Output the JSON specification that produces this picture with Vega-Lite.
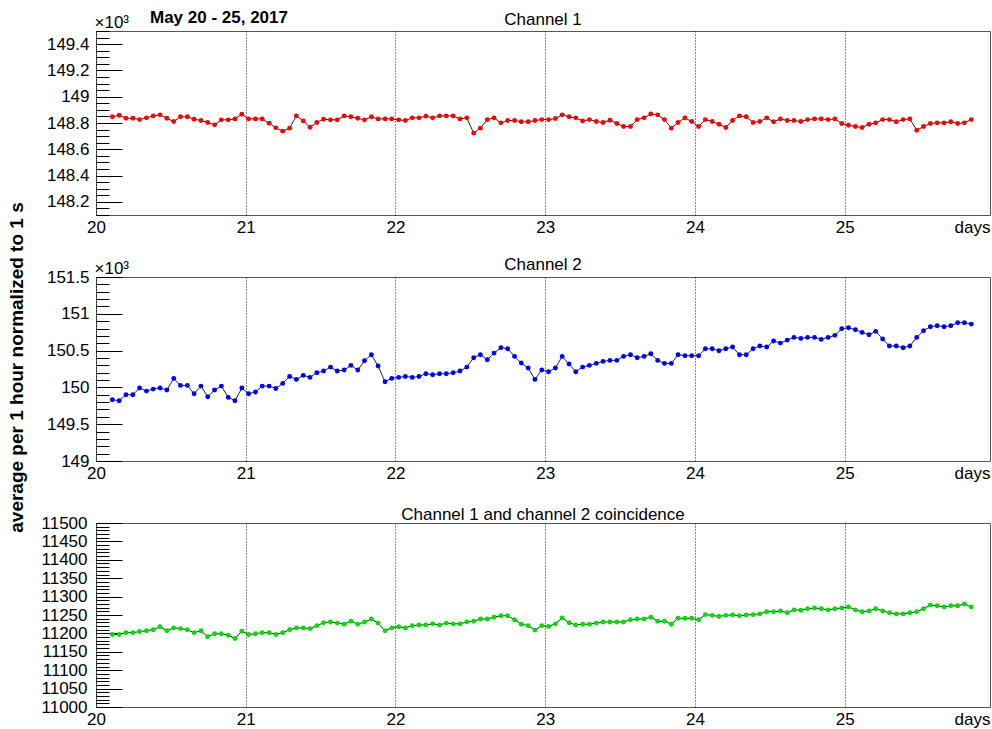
{
"$schema":"https://vega.github.io/schema/vega-lite/v6.json",
"background":"white",
"padding":{"left":6,"top":8,"right":2,"bottom":0},
"title":{"text":"May 20 - 25, 2017","anchor":"start","frame":"group","dx":54,"dy":16,"offset":0,"fontSize":17,"fontWeight":"bold","font":"Liberation Sans","color":"#000"},
"data":{"values":[
{"t":20.109,"a":148.847,"b":149.832,"c":11197},
{"t":20.155,"a":148.859,"b":149.819,"c":11197},
{"t":20.200,"a":148.836,"b":149.900,"c":11202},
{"t":20.246,"a":148.836,"b":149.900,"c":11202},
{"t":20.291,"a":148.826,"b":149.991,"c":11205},
{"t":20.337,"a":148.839,"b":149.950,"c":11207},
{"t":20.382,"a":148.854,"b":149.977,"c":11210},
{"t":20.428,"a":148.862,"b":149.991,"c":11218},
{"t":20.473,"a":148.836,"b":149.964,"c":11207},
{"t":20.519,"a":148.811,"b":150.122,"c":11215},
{"t":20.564,"a":148.847,"b":150.027,"c":11213},
{"t":20.610,"a":148.847,"b":150.027,"c":11210},
{"t":20.655,"a":148.829,"b":149.914,"c":11202},
{"t":20.701,"a":148.819,"b":150.018,"c":11207},
{"t":20.746,"a":148.804,"b":149.873,"c":11191},
{"t":20.792,"a":148.786,"b":149.964,"c":11199},
{"t":20.837,"a":148.824,"b":150.018,"c":11199},
{"t":20.883,"a":148.824,"b":149.864,"c":11195},
{"t":20.928,"a":148.831,"b":149.819,"c":11186},
{"t":20.974,"a":148.867,"b":149.991,"c":11206},
{"t":21.019,"a":148.831,"b":149.914,"c":11197},
{"t":21.065,"a":148.831,"b":149.937,"c":11199},
{"t":21.110,"a":148.831,"b":150.018,"c":11202},
{"t":21.156,"a":148.798,"b":150.018,"c":11202},
{"t":21.201,"a":148.763,"b":149.986,"c":11197},
{"t":21.247,"a":148.738,"b":150.054,"c":11202},
{"t":21.293,"a":148.761,"b":150.149,"c":11210},
{"t":21.338,"a":148.854,"b":150.109,"c":11215},
{"t":21.384,"a":148.816,"b":150.163,"c":11215},
{"t":21.429,"a":148.768,"b":150.136,"c":11213},
{"t":21.475,"a":148.804,"b":150.199,"c":11221},
{"t":21.520,"a":148.829,"b":150.222,"c":11229},
{"t":21.566,"a":148.824,"b":150.276,"c":11231},
{"t":21.611,"a":148.824,"b":150.222,"c":11228},
{"t":21.657,"a":148.854,"b":150.236,"c":11225},
{"t":21.702,"a":148.847,"b":150.299,"c":11233},
{"t":21.748,"a":148.836,"b":150.236,"c":11225},
{"t":21.793,"a":148.824,"b":150.362,"c":11231},
{"t":21.839,"a":148.847,"b":150.444,"c":11239},
{"t":21.884,"a":148.831,"b":150.290,"c":11228},
{"t":21.930,"a":148.831,"b":150.077,"c":11207},
{"t":21.975,"a":148.831,"b":150.122,"c":11215},
{"t":22.021,"a":148.824,"b":150.136,"c":11218},
{"t":22.066,"a":148.819,"b":150.149,"c":11215},
{"t":22.112,"a":148.839,"b":150.136,"c":11221},
{"t":22.157,"a":148.839,"b":150.149,"c":11223},
{"t":22.203,"a":148.852,"b":150.186,"c":11223},
{"t":22.248,"a":148.839,"b":150.172,"c":11226},
{"t":22.294,"a":148.854,"b":150.186,"c":11223},
{"t":22.339,"a":148.854,"b":150.186,"c":11228},
{"t":22.385,"a":148.854,"b":150.199,"c":11226},
{"t":22.431,"a":148.831,"b":150.222,"c":11226},
{"t":22.476,"a":148.839,"b":150.276,"c":11231},
{"t":22.522,"a":148.723,"b":150.403,"c":11233},
{"t":22.567,"a":148.761,"b":150.444,"c":11239},
{"t":22.613,"a":148.826,"b":150.376,"c":11239},
{"t":22.658,"a":148.839,"b":150.466,"c":11244},
{"t":22.704,"a":148.801,"b":150.540,"c":11248},
{"t":22.749,"a":148.819,"b":150.525,"c":11248},
{"t":22.795,"a":148.819,"b":150.421,"c":11237},
{"t":22.840,"a":148.809,"b":150.331,"c":11225},
{"t":22.886,"a":148.809,"b":150.263,"c":11221},
{"t":22.931,"a":148.819,"b":150.109,"c":11209},
{"t":22.977,"a":148.826,"b":150.236,"c":11221},
{"t":23.022,"a":148.826,"b":150.213,"c":11219},
{"t":23.068,"a":148.834,"b":150.263,"c":11226},
{"t":23.113,"a":148.862,"b":150.421,"c":11242},
{"t":23.159,"a":148.847,"b":150.317,"c":11229},
{"t":23.204,"a":148.839,"b":150.213,"c":11223},
{"t":23.250,"a":148.816,"b":150.276,"c":11225},
{"t":23.295,"a":148.826,"b":150.299,"c":11225},
{"t":23.341,"a":148.811,"b":150.326,"c":11228},
{"t":23.386,"a":148.804,"b":150.353,"c":11231},
{"t":23.432,"a":148.821,"b":150.367,"c":11231},
{"t":23.478,"a":148.796,"b":150.367,"c":11231},
{"t":23.523,"a":148.773,"b":150.421,"c":11231},
{"t":23.569,"a":148.773,"b":150.444,"c":11237},
{"t":23.614,"a":148.826,"b":150.403,"c":11239},
{"t":23.660,"a":148.839,"b":150.421,"c":11239},
{"t":23.705,"a":148.869,"b":150.457,"c":11244},
{"t":23.751,"a":148.862,"b":150.367,"c":11233},
{"t":23.796,"a":148.826,"b":150.326,"c":11233},
{"t":23.842,"a":148.761,"b":150.326,"c":11225},
{"t":23.887,"a":148.804,"b":150.444,"c":11241},
{"t":23.933,"a":148.839,"b":150.430,"c":11241},
{"t":23.978,"a":148.811,"b":150.430,"c":11241},
{"t":24.024,"a":148.773,"b":150.430,"c":11237},
{"t":24.069,"a":148.826,"b":150.525,"c":11251},
{"t":24.115,"a":148.811,"b":150.525,"c":11249},
{"t":24.160,"a":148.791,"b":150.498,"c":11246},
{"t":24.206,"a":148.766,"b":150.525,"c":11249},
{"t":24.251,"a":148.819,"b":150.548,"c":11250},
{"t":24.297,"a":148.854,"b":150.444,"c":11248},
{"t":24.342,"a":148.847,"b":150.444,"c":11250},
{"t":24.388,"a":148.804,"b":150.525,"c":11251},
{"t":24.433,"a":148.811,"b":150.562,"c":11253},
{"t":24.479,"a":148.839,"b":150.548,"c":11259},
{"t":24.525,"a":148.809,"b":150.630,"c":11259},
{"t":24.570,"a":148.831,"b":150.602,"c":11261},
{"t":24.616,"a":148.819,"b":150.643,"c":11256},
{"t":24.661,"a":148.819,"b":150.679,"c":11264},
{"t":24.707,"a":148.811,"b":150.666,"c":11263},
{"t":24.752,"a":148.826,"b":150.679,"c":11267},
{"t":24.798,"a":148.831,"b":150.679,"c":11269},
{"t":24.843,"a":148.831,"b":150.652,"c":11267},
{"t":24.889,"a":148.826,"b":150.679,"c":11264},
{"t":24.934,"a":148.831,"b":150.707,"c":11267},
{"t":24.980,"a":148.796,"b":150.797,"c":11269},
{"t":25.025,"a":148.783,"b":150.811,"c":11272},
{"t":25.071,"a":148.773,"b":150.784,"c":11264},
{"t":25.116,"a":148.766,"b":150.747,"c":11259},
{"t":25.162,"a":148.791,"b":150.716,"c":11261},
{"t":25.207,"a":148.801,"b":150.761,"c":11267},
{"t":25.253,"a":148.826,"b":150.657,"c":11261},
{"t":25.298,"a":148.826,"b":150.562,"c":11256},
{"t":25.344,"a":148.809,"b":150.562,"c":11253},
{"t":25.390,"a":148.826,"b":150.539,"c":11253},
{"t":25.435,"a":148.831,"b":150.562,"c":11256},
{"t":25.481,"a":148.745,"b":150.679,"c":11259},
{"t":25.526,"a":148.773,"b":150.770,"c":11267},
{"t":25.572,"a":148.796,"b":150.824,"c":11277},
{"t":25.617,"a":148.801,"b":150.838,"c":11275},
{"t":25.663,"a":148.801,"b":150.824,"c":11272},
{"t":25.708,"a":148.809,"b":150.838,"c":11275},
{"t":25.754,"a":148.796,"b":150.879,"c":11275},
{"t":25.799,"a":148.801,"b":150.879,"c":11280},
{"t":25.845,"a":148.826,"b":150.860,"c":11272}
]},
"spacing":62,
"bounds":"flush",
"vconcat":[
{
"width":894,"height":184,
"title":{"text":"Channel 1","frame":"group","anchor":"middle","offset":4,"dy":20,"fontSize":17,"fontWeight":"normal","font":"Liberation Sans","color":"#000"},
"encoding":{"x":{"field":"t","type":"quantitative","scale":{"domain":[20,25.97],"nice":false,"zero":false},
"axis":{"values":[20,21,22,23,24,25],"format":"d","ticks":false,"domain":false,"grid":true,"gridColor":"#000","gridDash":[1,2],"gridWidth":1,"gridOpacity":0.9,"labelFontSize":17,"labelFont":"Liberation Sans","labelColor":"#000","labelPadding":4,"labelFlush":false,"labelOverlap":false,"title":"days","titleX":894,"titleY":4,"titleAlign":"right","titleBaseline":"top","titleFontSize":17,"titleFontWeight":"normal","titleFont":"Liberation Sans","titleColor":"#000"}}},
"layer":[
{"mark":{"type":"line","color":"#222","strokeWidth":1},
"encoding":{
"y":{"field":"a","type":"quantitative","scale":{"domain":[148.1,149.5],"nice":false,"zero":false},
"axis":{"orient":"left","values":[148.2,148.4,148.6,148.8,149,149.2,149.4],"format":".1~f","tickSize":-26,"tickColor":"#000","tickWidth":1,"domain":false,"grid":false,"labelFontSize":17,"labelFont":"Liberation Sans","labelColor":"#000","labelPadding":33,"labelOverlap":false,"labelBound":false,"title":null}}
}},
{"mark":{"type":"circle","color":"#ff0000","size":24,"opacity":1},
"encoding":{
"y":{"field":"a","type":"quantitative","scale":{"domain":[148.1,149.5],"nice":false,"zero":false},
"axis":{"orient":"left","values":[148.1,148.15,148.2,148.25,148.3,148.35,148.4,148.45,148.5,148.55,148.6,148.65,148.7,148.75,148.8,148.85,148.9,148.95,149,149.05,149.1,149.15,149.2,149.25,149.3,149.35,149.4,149.45,149.5],"labels":false,"tickSize":-13,"tickColor":"#000","tickWidth":1,"domain":false,"grid":false,"title":"×10³","titleAngle":0,"titleAlign":"left","titleBaseline":"alphabetic","titleX":-2,"titleY":-4,"titleFontSize":17,"titleFontWeight":"normal","titleFont":"Liberation Sans","titleColor":"#000"}}
}}
],
"resolve":{"scale":{"y":"independent"},"axis":{"y":"independent"}}
},
{
"width":894,"height":184,
"title":{"text":"Channel 2","frame":"group","anchor":"middle","offset":4,"dy":76,"fontSize":17,"fontWeight":"normal","font":"Liberation Sans","color":"#000"},
"encoding":{"x":{"field":"t","type":"quantitative","scale":{"domain":[20,25.97],"nice":false,"zero":false},
"axis":{"values":[20,21,22,23,24,25],"format":"d","ticks":false,"domain":false,"grid":true,"gridColor":"#000","gridDash":[1,2],"gridWidth":1,"gridOpacity":0.9,"labelFontSize":17,"labelFont":"Liberation Sans","labelColor":"#000","labelPadding":4,"labelFlush":false,"labelOverlap":false,"title":"days","titleX":894,"titleY":4,"titleAlign":"right","titleBaseline":"top","titleFontSize":17,"titleFontWeight":"normal","titleFont":"Liberation Sans","titleColor":"#000"}}},
"layer":[
{"mark":{"type":"line","color":"#222","strokeWidth":1},
"encoding":{
"y":{"field":"b","type":"quantitative","scale":{"domain":[149,151.5],"nice":false,"zero":false},
"axis":{"orient":"left","values":[149,149.5,150,150.5,151,151.5],"format":".1~f","tickSize":-26,"tickColor":"#000","tickWidth":1,"domain":false,"grid":false,"labelFontSize":17,"labelFont":"Liberation Sans","labelColor":"#000","labelPadding":33,"labelOverlap":false,"labelBound":false,"title":"average per 1 hour normalized to 1 s","titleX":-80,"titleY":90,"titleAngle":270,"titleAlign":"center","titleBaseline":"middle","titleFontSize":19,"titleFontWeight":"bold","titleFont":"Liberation Sans","titleColor":"#000"}}
}},
{"mark":{"type":"circle","color":"#0000ff","size":24,"opacity":1},
"encoding":{
"y":{"field":"b","type":"quantitative","scale":{"domain":[149,151.5],"nice":false,"zero":false},
"axis":{"orient":"left","values":[149,149.1,149.2,149.3,149.4,149.5,149.6,149.7,149.8,149.9,150,150.1,150.2,150.3,150.4,150.5,150.6,150.7,150.8,150.9,151,151.1,151.2,151.3,151.4,151.5],"labels":false,"tickSize":-13,"tickColor":"#000","tickWidth":1,"domain":false,"grid":false,"title":"×10³","titleAngle":0,"titleAlign":"left","titleBaseline":"alphabetic","titleX":-2,"titleY":-4,"titleFontSize":17,"titleFontWeight":"normal","titleFont":"Liberation Sans","titleColor":"#000"}}
}}
],
"resolve":{"scale":{"y":"independent"},"axis":{"y":"independent"}}
},
{
"width":894,"height":184,
"title":{"text":"Channel 1 and channel 2 coincidence","frame":"group","anchor":"middle","offset":4,"dy":14,"fontSize":17,"fontWeight":"normal","font":"Liberation Sans","color":"#000"},
"encoding":{"x":{"field":"t","type":"quantitative","scale":{"domain":[20,25.97],"nice":false,"zero":false},
"axis":{"values":[20,21,22,23,24,25],"format":"d","ticks":false,"domain":false,"grid":true,"gridColor":"#000","gridDash":[1,2],"gridWidth":1,"gridOpacity":0.9,"labelFontSize":17,"labelFont":"Liberation Sans","labelColor":"#000","labelPadding":4,"labelFlush":false,"labelOverlap":false,"title":"days","titleX":894,"titleY":4,"titleAlign":"right","titleBaseline":"top","titleFontSize":17,"titleFontWeight":"normal","titleFont":"Liberation Sans","titleColor":"#000"}}},
"layer":[
{"mark":{"type":"line","color":"#222","strokeWidth":1},
"encoding":{
"y":{"field":"c","type":"quantitative","scale":{"domain":[11000,11500],"nice":false,"zero":false},
"axis":{"orient":"left","values":[11000,11050,11100,11150,11200,11250,11300,11350,11400,11450,11500],"format":"d","tickSize":-26,"tickColor":"#000","tickWidth":1,"domain":false,"grid":false,"labelFontSize":17,"labelFont":"Liberation Sans","labelColor":"#000","labelPadding":35,"labelOverlap":false,"labelBound":false,"title":null}}
}},
{"mark":{"type":"circle","color":"#00dd00","size":24,"opacity":1},
"encoding":{
"y":{"field":"c","type":"quantitative","scale":{"domain":[11000,11500],"nice":false,"zero":false},
"axis":{"orient":"left","values":[11000,11010,11020,11030,11040,11050,11060,11070,11080,11090,11100,11110,11120,11130,11140,11150,11160,11170,11180,11190,11200,11210,11220,11230,11240,11250,11260,11270,11280,11290,11300,11310,11320,11330,11340,11350,11360,11370,11380,11390,11400,11410,11420,11430,11440,11450,11460,11470,11480,11490,11500],"labels":false,"tickSize":-13,"tickColor":"#000","tickWidth":1,"domain":false,"grid":false,"title":null}}
}}
],
"resolve":{"scale":{"y":"independent"},"axis":{"y":"independent"}}
}
],
"config":{"view":{"stroke":"#555","strokeWidth":1},"font":"Liberation Sans"}
}
